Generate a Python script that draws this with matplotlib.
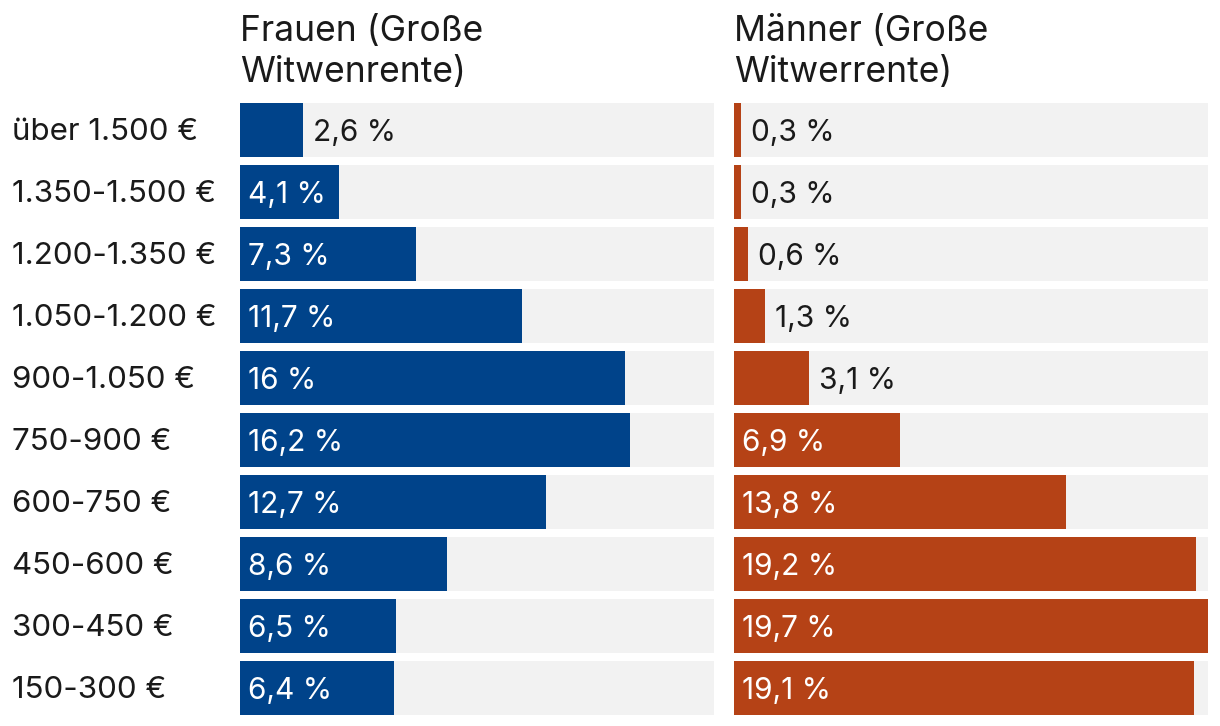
import matplotlib
matplotlib.use("Agg")
import matplotlib.pyplot as plt
from matplotlib.transforms import offset_copy

plt.rcParams['font.family'] = ['Inter', 'DejaVu Sans']

categories = ["über 1.500 €", "1.350-1.500 €", "1.200-1.350 €", "1.050-1.200 €", "900-1.050 €",
              "750-900 €", "600-750 €", "450-600 €", "300-450 €", "150-300 €"]
frauen = [2.6, 4.1, 7.3, 11.7, 16, 16.2, 12.7, 8.6, 6.5, 6.4]
maenner = [0.3, 0.3, 0.6, 1.3, 3.1, 6.9, 13.8, 19.2, 19.7, 19.1]
titles = [["Frauen (Große", "Witwenrente)"], ["Männer (Große", "Witwerrente)"]]
colors = ["#00438A", "#B54216"]

W, H = 1220, 726
fig = plt.figure(figsize=(W/100, H/100), dpi=100)
maxv = max(max(frauen), max(maenner))
TXT = '#1a1a1a'
FS = 21.5

def fmt(v):
    s = f"{v:g}".replace(".", ",")
    return s + " %"

panels = [(240, 714), (734, 1208)]
top_px, bot_px = 99, 719
n = len(categories)
for pi, (vals, title, col) in enumerate(zip([frauen, maenner], titles, colors)):
    x0, x1 = panels[pi]
    ax = fig.add_axes([x0/W, 1-bot_px/H, (x1-x0)/W, (bot_px-top_px)/H])
    ax.set_xlim(0, maxv)
    ax.set_ylim(n-0.5, -0.5)
    ys = list(range(n))
    ax.barh(ys, [maxv]*n, height=0.87, color="#F2F2F2", left=0)
    ax.barh(ys, vals, height=0.87, color=col)
    for y, v in zip(ys, vals):
        if v >= 4:
            tr = offset_copy(ax.transData, fig=fig, x=8, y=-11, units='dots')
            ax.text(0, y, fmt(v), transform=tr, ha='left', va='baseline', color='white', fontsize=FS)
        else:
            tr = offset_copy(ax.transData, fig=fig, x=10, y=-11, units='dots')
            ax.text(v, y, fmt(v), transform=tr, ha='left', va='baseline', color=TXT, fontsize=FS)
    ax.axis('off')
    fig.text(x0/W, 1-41/H, title[0], ha='left', va='baseline', fontsize=25.5, color=TXT)
    fig.text(x0/W, 1-82/H, title[1], ha='left', va='baseline', fontsize=25.5, color=TXT)

for i, c in enumerate(categories):
    yc = 130 + 62*i
    fig.text(12/W, 1-(yc+10)/H, c, ha='left', va='baseline', fontsize=22.5, color=TXT)

fig.savefig("out.png", dpi=100, facecolor='white')
